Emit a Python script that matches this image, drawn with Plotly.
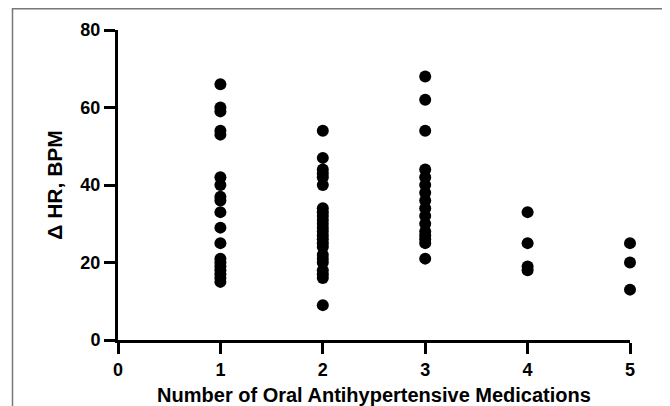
import plotly.graph_objects as go

meds_1 = [66, 60, 59, 54, 53, 42, 40, 37, 36, 33, 29, 25, 21, 20, 19, 18, 17, 16, 15]
meds_2 = [54, 47, 44, 43, 42, 40, 34, 33, 32, 31, 30, 29, 28, 27, 26, 25, 24, 22, 21, 20, 18, 17, 16, 9]
meds_3 = [68, 62, 54, 44, 42, 40, 38, 36, 34, 32, 30, 28, 27, 26, 25, 21]
meds_4 = [33, 25, 19, 18]
meds_5 = [25, 20, 13]

groups = [1, 2, 3, 4, 5]
values = [meds_1, meds_2, meds_3, meds_4, meds_5]

xs, ys = [], []
for g, v in zip(groups, values):
    xs += [g] * len(v)
    ys += v

font_family = "Arial, Liberation Sans, sans-serif"

# page body has an 8px default margin; figure sized so that it fits the 670x406 window
W, H = 662, 398
OFF = 8
# plot area target in window coords: x 118..630, y 30..340
L, R, T, B = 118 - OFF, OFF + W - 630, 30 - OFF, OFF + H - 340

fig = go.Figure()
fig.add_trace(go.Scatter(
    x=xs, y=ys, mode="markers",
    marker=dict(color="black", size=12, line=dict(width=0)),
    cliponaxis=False, showlegend=False,
))

fig.update_layout(
    width=W, height=H,
    margin=dict(l=L, r=R, t=T, b=B, autoexpand=False),
    plot_bgcolor="white", paper_bgcolor="white",
    font=dict(family=font_family, color="black", size=18, weight="bold"),
    xaxis=dict(
        range=[0, 5], tickvals=[0, 1, 2, 3, 4, 5],
        automargin=False,
        showgrid=False, zeroline=False,
        showline=True, linecolor="black", linewidth=3,
        ticks="outside", ticklen=11, tickwidth=3, tickcolor="black",
        tickfont=dict(size=18, family=font_family, weight="bold"),
        title=dict(text="Number of Oral Antihypertensive Medications",
                   font=dict(size=20, family=font_family, weight="bold"), standoff=10),
    ),
    yaxis=dict(
        range=[0, 80], tickvals=[0, 20, 40, 60, 80],
        automargin=False,
        showgrid=False, zeroline=False,
        showline=True, linecolor="black", linewidth=3,
        ticks="outside", ticklen=11, tickwidth=3, tickcolor="black",
        tickfont=dict(size=18, family=font_family, weight="bold"),
        title=dict(text="Δ HR, BPM",
                   font=dict(size=21, family=font_family, weight="bold"), standoff=13),
    ),
)

# thin gray frame around the figure, as in the reference image
plot_w = W - L - R
plot_h = H - T - B
fig.add_shape(
    type="rect", xref="paper", yref="paper",
    x0=(12.5 - 118) / plot_w, x1=(665 - 118) / plot_w,
    y0=(340 - 430) / plot_h, y1=(340 - 8.8) / plot_h,
    line=dict(color="#777777", width=1.5), fillcolor="rgba(0,0,0,0)", layer="below",
)

fig.write_html("out.html")
